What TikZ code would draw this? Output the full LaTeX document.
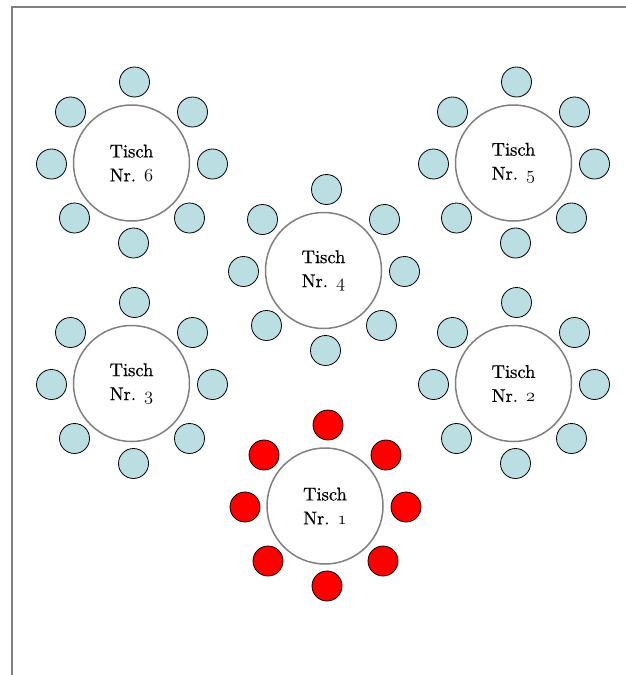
\RequirePackage{fix-cm}
\documentclass[tikz,border=0pt]{standalone}
\usepackage{fontspec}
\usetikzlibrary{positioning}
\newfontfamily\tischfont{lmroman10-regular.otf}[FakeBold=0.6]
\definecolor{seatblue}{RGB}{186,222,226}
\definecolor{framegray}{RGB}{128,128,128}
\newcommand\altnum[1]{{\usefont{OML}{cmm}{m}{it}#1}}

\begin{document}
\begin{tikzpicture}[
  x=1pt, y=-1pt,
  tisch/.style={circle, draw=framegray, line width=1.5pt, fill=white, align=center,
                minimum size=116pt, inner sep=0pt, font=\tischfont\fontsize{18.5}{24}\selectfont},
  seat/.style={circle, draw=black, line width=0.8pt, fill=seatblue,
               minimum size=30pt, inner sep=0pt},
  redseat/.style={seat, fill=red}
]
\useasboundingbox (0,0) rectangle (625,675);
\draw[framegray, line width=1.5pt] (12,676) -- (12,7) -- (626,7);
% Tische
\node[tisch] (t6) at (131.5,163) {Tisch\\Nr. \altnum{6}};
\node[tisch] (t5) at (513.5,163) {Tisch\\Nr. \altnum{5}};
\node[tisch] (t4) at (323.5,270.5) {Tisch\\Nr. \altnum{4}};
\node[tisch] (t3) at (131.5,383.5) {Tisch\\Nr. \altnum{3}};
\node[tisch] (t2) at (513.5,383.5) {Tisch\\Nr. \altnum{2}};
\node[tisch] (t1) at (325,506) {Tisch\\Nr. \altnum{1}};
% Stuehle
\foreach \t/\s in {t6/seat, t5/seat, t4/seat, t3/seat, t2/seat, t1/redseat}
  \foreach \dx/\dy [count=\i] in {3/-81, 61/-51, 81/1, 58/55, 2/80, -57/55, -80/1, -61/-51}
    \node[\s] (\t-s\i) at ([shift={(\dx,\dy)}]\t) {};
\end{tikzpicture}
\end{document}
